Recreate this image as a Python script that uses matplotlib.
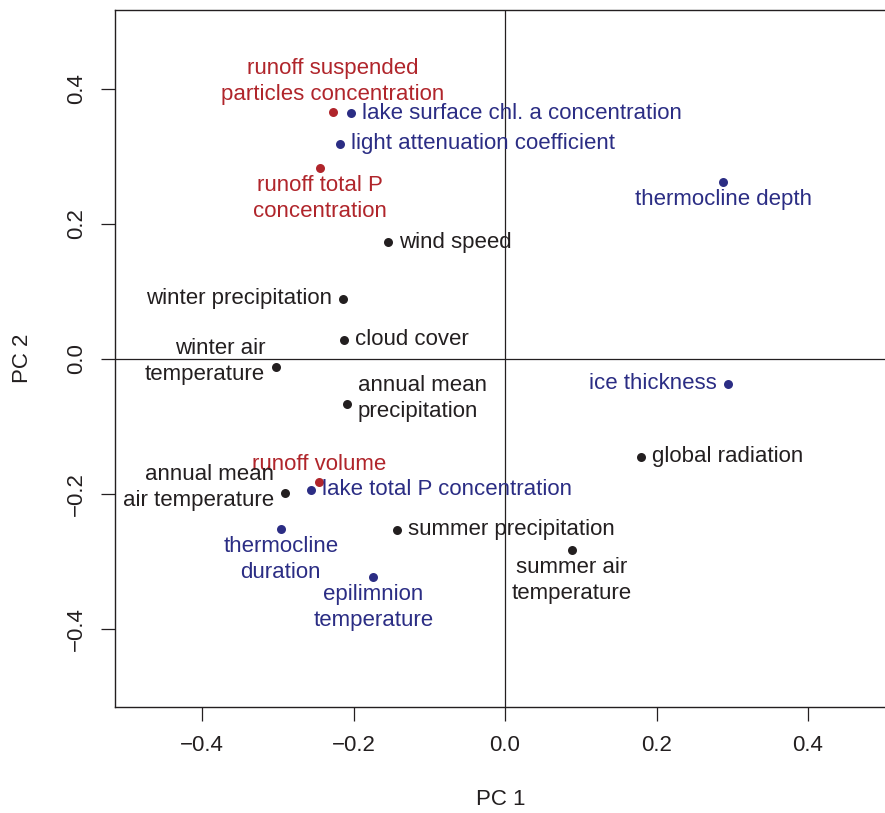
import matplotlib
matplotlib.use("Agg")
import matplotlib.pyplot as plt

plt.rcParams['font.family'] = ['Liberation Sans', 'DejaVu Sans']

# PCA loadings
labels = ["runoff suspended\nparticles concentration", "lake surface chl. a concentration",
          "light attenuation coefficient", "runoff total P\nconcentration", "thermocline depth",
          "wind speed", "winter precipitation", "cloud cover", "winter air\ntemperature",
          "annual mean\nprecipitation", "ice thickness", "global radiation", "runoff volume",
          "annual mean\nair temperature", "lake total P concentration", "thermocline\nduration",
          "summer precipitation", "summer air\ntemperature", "epilimnion\ntemperature"]
pc1 = [-0.227, -0.203, -0.218, -0.244, 0.288, -0.154, -0.214, -0.213, -0.302,
       -0.209, 0.294, 0.180, -0.246, -0.290, -0.256, -0.296, -0.143, 0.088, -0.174]
pc2 = [0.366, 0.364, 0.319, 0.283, 0.262, 0.173, 0.089, 0.028, -0.012,
       -0.067, -0.037, -0.145, -0.182, -0.199, -0.194, -0.252, -0.253, -0.284, -0.324]
# group: r = runoff, b = lake, k = meteorology
group = ["r", "b", "b", "r", "b", "k", "k", "k", "k", "k", "b", "k", "r", "k", "b", "b", "k", "k", "b"]
# label side like R's pos: 1 below, 2 left, 3 above, 4 right
pos = [3, 4, 4, 1, 1, 4, 2, 4, 2, 4, 2, 4, 3, 2, 4, 1, 4, 1, 1]

colors = {"r": "#b0252b", "b": "#2b2d84", "k": "#231f20"}
fs = 16

fig = plt.figure(figsize=(8.85, 8.13), dpi=100)
ax = fig.add_axes([115/885, 106/813, 771/885, 697/813])

ax.axhline(0, color="#231f20", lw=0.9, zorder=1)
ax.axvline(0, color="#231f20", lw=0.9, zorder=1)

for lab, x, y, g, p in zip(labels, pc1, pc2, group, pos):
    c = colors[g]
    ax.scatter([x], [y], s=42, color=c, zorder=3, linewidths=0)
    # R puts two-line side labels a bit higher than the point
    up = 4 if "\n" in lab else 0
    if p == 1:
        off, ha, va = (0, -5), "center", "top"
    elif p == 2:
        off, ha, va = (-8, up), "right", "center"
    elif p == 3:
        off, ha, va = (0, 5), "center", "bottom"
    else:
        off, ha, va = (8, up), "left", "center"
    ax.annotate(lab, (x, y), xytext=off, textcoords="offset points",
                ha=ha, va=va, multialignment=ha,
                color=c, fontsize=fs, linespacing=1.3)

ax.set_xlim(-0.515, 0.503)
ax.set_ylim(-0.516, 0.517)
ax.set_xticks([-0.4, -0.2, 0.0, 0.2, 0.4])
ax.set_yticks([-0.4, -0.2, 0.0, 0.2, 0.4])
ax.set_xticklabels(["\u22120.4", "\u22120.2", "0.0", "0.2", "0.4"])
ax.set_yticklabels(["\u22120.4", "\u22120.2", "0.0", "0.2", "0.4"], rotation=90, va="center")
ax.tick_params(direction="out", length=10, width=0.9, color="#231f20", labelsize=fs,
               labelcolor="#231f20", pad=10)
for s in ax.spines.values():
    s.set_linewidth(1.0)
    s.set_color("#231f20")
ax.spines["right"].set_visible(False)

ax.set_xlabel("PC 1", fontsize=fs, color="#231f20", labelpad=24)
ax.set_ylabel("PC 2", fontsize=fs, color="#231f20", labelpad=24)

fig.savefig("out.png", dpi=100)
